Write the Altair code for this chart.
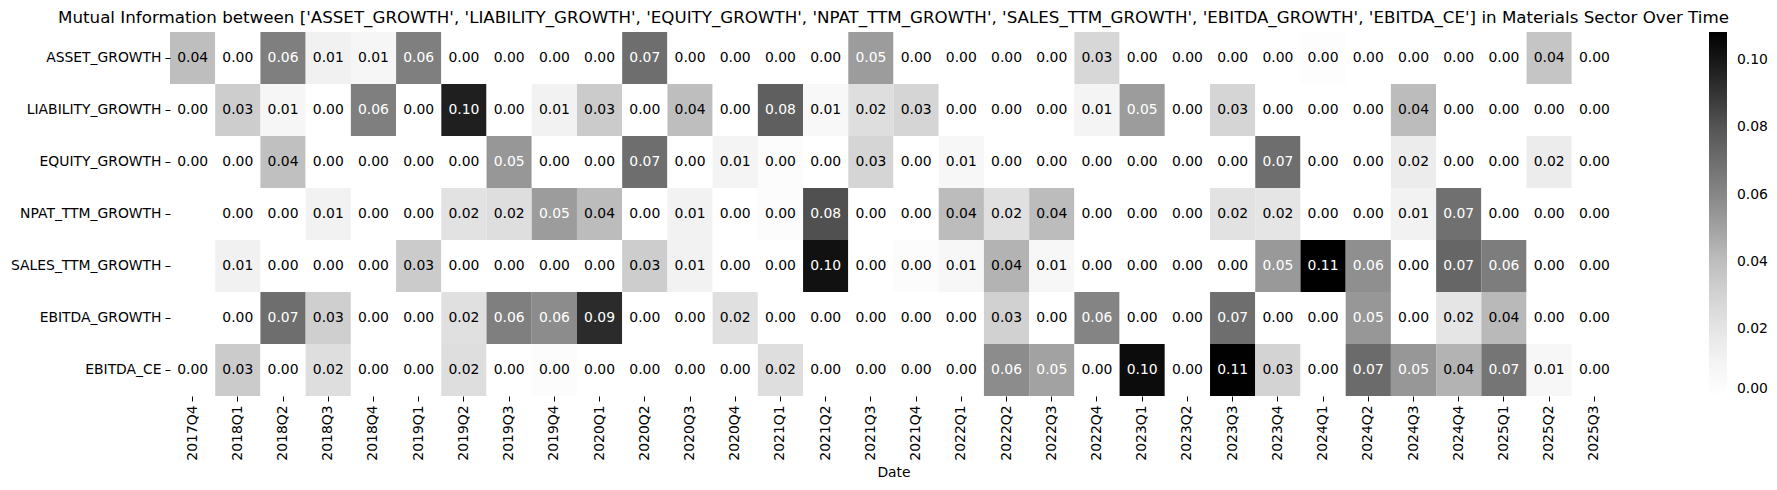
import altair as alt
import pandas as pd

dates = ["2017Q4",
         "2018Q1", "2018Q2", "2018Q3", "2018Q4",
         "2019Q1", "2019Q2", "2019Q3", "2019Q4",
         "2020Q1", "2020Q2", "2020Q3", "2020Q4",
         "2021Q1", "2021Q2", "2021Q3", "2021Q4",
         "2022Q1", "2022Q2", "2022Q3", "2022Q4",
         "2023Q1", "2023Q2", "2023Q3", "2023Q4",
         "2024Q1", "2024Q2", "2024Q3", "2024Q4",
         "2025Q1", "2025Q2", "2025Q3"]

metrics = ["ASSET_GROWTH", "LIABILITY_GROWTH", "EQUITY_GROWTH", "NPAT_TTM_GROWTH",
           "SALES_TTM_GROWTH", "EBITDA_GROWTH", "EBITDA_CE"]

asset_growth = [0.040, 0.000, 0.063, 0.013, 0.008, 0.063, 0.000, 0.000, 0.000, 0.000,
                0.070, 0.000, 0.000, 0.000, 0.000, 0.052, 0.000, 0.000, 0.000, 0.000,
                0.028, 0.000, 0.000, 0.000, 0.000, 0.002, 0.000, 0.000, 0.000, 0.000,
                0.037, 0.000]
liability_growth = [0.000, 0.033, 0.008, 0.000, 0.063, 0.000, 0.097, 0.000, 0.012, 0.034,
                    0.000, 0.040, 0.000, 0.076, 0.006, 0.024, 0.029, 0.000, 0.000, 0.000,
                    0.010, 0.052, 0.000, 0.029, 0.000, 0.000, 0.000, 0.041, 0.000, 0.000,
                    0.000, 0.000]
equity_growth = [0.000, 0.000, 0.039, 0.000, 0.000, 0.000, 0.000, 0.054, 0.000, 0.000,
                 0.070, 0.000, 0.010, 0.003, 0.000, 0.029, 0.000, 0.007, 0.000, 0.000,
                 0.000, 0.000, 0.000, 0.000, 0.070, 0.000, 0.000, 0.016, 0.000, 0.000,
                 0.016, 0.000]
npat_ttm_growth = [None, 0.000, 0.000, 0.012, 0.000, 0.000, 0.022, 0.024, 0.052, 0.041,
                   0.000, 0.012, 0.000, 0.003, 0.082, 0.000, 0.000, 0.041, 0.023, 0.041,
                   0.000, 0.000, 0.000, 0.022, 0.020, 0.000, 0.000, 0.012, 0.069, 0.000,
                   0.000, 0.000]
sales_ttm_growth = [None, 0.013, 0.000, 0.000, 0.000, 0.034, 0.000, 0.000, 0.000, 0.000,
                    0.033, 0.012, 0.000, 0.000, 0.102, 0.000, 0.003, 0.007, 0.044, 0.007,
                    0.000, 0.000, 0.000, 0.000, 0.053, 0.1084, 0.057, 0.000, 0.073, 0.064,
                    0.000, 0.000]
ebitda_growth = [None, 0.000, 0.070, 0.032, 0.000, 0.000, 0.023, 0.063, 0.058, 0.093,
                 0.000, 0.000, 0.023, 0.000, 0.000, 0.000, 0.000, 0.000, 0.031, 0.000,
                 0.061, 0.000, 0.000, 0.070, 0.000, 0.000, 0.054, 0.000, 0.020, 0.042,
                 0.000, 0.000]
ebitda_ce = [0.000, 0.034, 0.000, 0.024, 0.000, 0.000, 0.024, 0.000, 0.003, 0.000,
             0.000, 0.000, 0.000, 0.024, 0.000, 0.000, 0.000, 0.000, 0.058, 0.050,
             0.000, 0.104, 0.000, 0.108, 0.030, 0.000, 0.071, 0.054, 0.044, 0.067,
             0.007, 0.000]

series = [asset_growth, liability_growth, equity_growth, npat_ttm_growth,
          sales_ttm_growth, ebitda_growth, ebitda_ce]

records = []
for name, vals in zip(metrics, series):
    for d, v in zip(dates, vals):
        if v is not None:
            records.append({"Metric": name, "Date": d, "MI": v})
df = pd.DataFrame(records)

vmax = float(df["MI"].max())
greys = ["#ffffff", "#f0f0f0", "#d9d9d9", "#bdbdbd", "#969696",
         "#737373", "#525252", "#252525", "#000000"]
stops = [vmax * i / 8 for i in range(9)]

FONT = "DejaVu Sans"
FS = 13.9

title_text = ("Mutual Information between ['ASSET_GROWTH', 'LIABILITY_GROWTH', "
              "'EQUITY_GROWTH', 'NPAT_TTM_GROWTH', 'SALES_TTM_GROWTH', "
              "'EBITDA_GROWTH', 'EBITDA_CE'] in Materials Sector Over Time")

x_enc = alt.X("Date:N", sort=dates, title="Date",
              scale=alt.Scale(paddingInner=0, paddingOuter=0),
              axis=alt.Axis(labelAngle=270, labelFont=FONT, labelFontSize=FS,
                            labelColor="black", tickColor="black", tickSize=5,
                            labelPadding=4, domain=False, titleFont=FONT,
                            titleFontSize=FS, titleFontWeight="normal",
                            titleColor="black", titlePadding=5,
                            labelBaseline="middle", labelAlign="right"))
y_enc = alt.Y("Metric:N", sort=metrics, title=None,
              scale=alt.Scale(paddingInner=0, paddingOuter=0),
              axis=alt.Axis(labelFont=FONT, labelFontSize=FS, labelColor="black",
                            tickColor="black", tickSize=5, labelPadding=4,
                            domain=False))

base = alt.Chart(df).encode(x=x_enc, y=y_enc)

rects = base.mark_rect().encode(
    color=alt.Color("MI:Q",
                    scale=alt.Scale(domain=stops, range=greys, interpolate="rgb"),
                    legend=alt.Legend(orient="none", legendX=1539, legendY=0,
                                      direction="vertical", title=None,
                                      gradientLength=364, gradientThickness=18,
                                      gradientStrokeWidth=0,
                                      values=[0, 0.02, 0.04, 0.06, 0.08, 0.10],
                                      format=".2f", labelFont=FONT,
                                      labelFontSize=FS, labelColor="black",
                                      labelOffset=10))
)

texts = base.mark_text(font=FONT, fontSize=FS).encode(
    text=alt.Text("MI:Q", format=".2f"),
    color=alt.condition(alt.datum.MI > 0.047, alt.value("white"), alt.value("black"))
)

chart = alt.layer(rects, texts).properties(
    width=1447, height=364,
    autosize=alt.AutoSizeParams(type="none"),
    padding={"left": 162, "top": 24, "right": 152, "bottom": 86},
    title=alt.TitleParams(title_text, font=FONT, fontSize=16.7, fontWeight="normal",
                          color="black", anchor="middle", frame="group",
                          baseline="alphabetic", offset=-8)
).configure_view(strokeWidth=0)

chart.save("out.html", embed_options={"renderer": "svg", "actions": False})
